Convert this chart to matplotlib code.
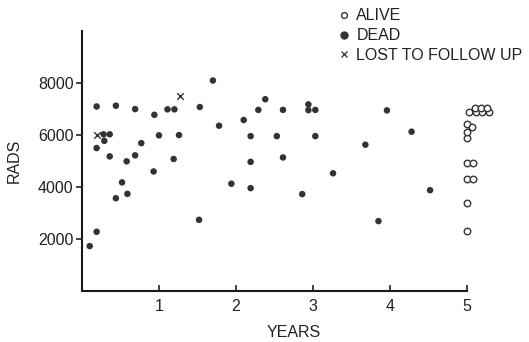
import numpy as np
import matplotlib
matplotlib.use('Agg')
import matplotlib.pyplot as plt
from matplotlib.lines import Line2D

plt.rcParams['font.family'] = ['Liberation Sans', 'DejaVu Sans']

# dead patients: years, rads
dead_years = [0.10, 0.19, 0.19, 0.28, 0.36, 0.29, 0.19, 0.36, 0.44, 0.44,
              0.52, 0.59, 0.58, 0.69, 0.69, 0.77, 0.94, 0.93, 1.00, 1.11,
              1.20, 1.19, 1.26, 1.53, 1.52, 1.70, 1.78, 1.94, 2.38, 2.29,
              2.61, 2.10, 2.19, 2.53, 3.03, 2.19, 2.61, 2.19, 2.86, 3.26,
              2.94, 2.94, 3.03, 3.68, 3.96, 4.28, 4.52, 3.85]
dead_rads = [1730, 2280, 7100, 6030, 6030, 5780, 5500, 5180, 7130, 3570,
             4180, 3740, 4990, 7000, 5220, 5690, 6780, 4600, 5990, 6990,
             6990, 5080, 6000, 7080, 2740, 8100, 6360, 4130, 7380, 6970,
             6970, 6580, 5960, 5960, 5960, 4970, 5140, 3960, 3730, 4530,
             7180, 6960, 6970, 5630, 6950, 6130, 3880, 2690]

# lost to follow up
lost_years = [0.19, 1.27]
lost_rads = [6000, 7500]

# alive at 5 years
alive_years = [5.00, 5.00, 5.00, 5.08, 5.00, 5.08, 5.00, 5.00, 5.00, 5.07,
               5.03, 5.12, 5.20, 5.29, 5.10, 5.18, 5.26]
alive_rads = [2300, 3400, 4320, 4320, 4920, 4920, 5900, 6100, 6420, 6310,
              6880, 6880, 6880, 6900, 7050, 7050, 7050]

x_ticks = [1, 2, 3, 4, 5]
y_ticks = [2000, 4000, 6000, 8000]

fig = plt.figure(figsize=(5.29, 3.42), dpi=100)
ax = fig.add_axes([0.155, 0.149, 0.8006, 0.760])

dot_col = '#333333'
ax.scatter(dead_years, dead_rads, s=22, color=dot_col, edgecolors='none', zorder=3)
ax.scatter(lost_years, lost_rads, s=22, marker='x', color=dot_col, linewidths=1.0, zorder=3)
ax.scatter(alive_years, alive_rads, s=22, facecolors='white', edgecolors=dot_col,
           linewidths=1.0, zorder=3)

ax.set_xlim(0, 5.5)
ax.set_ylim(0, 10000)
ax.spines['top'].set_visible(False)
ax.spines['right'].set_visible(False)
ax.spines['bottom'].set_bounds(0, 5)
for s in ['left', 'bottom']:
    ax.spines[s].set_linewidth(1.5)
    ax.spines[s].set_color('#1a1a1a')

ax.set_xticks(x_ticks)
ax.set_yticks(y_ticks)
ax.tick_params(axis='x', direction='in', length=4, width=1.2, labelsize=11.5, pad=6, colors='#222222')
ax.tick_params(axis='y', direction='out', length=4, width=1.2, labelsize=11.5, pad=2, colors='#222222')

ax.set_xlabel('YEARS', fontsize=11.5, color='#222222', labelpad=8)
ax.set_ylabel('RADS', fontsize=11.5, color='#222222', labelpad=12)

handles = [
    Line2D([], [], marker='o', linestyle='none', markersize=4.2, markerfacecolor='white',
           markeredgecolor=dot_col, markeredgewidth=1.0, label='ALIVE'),
    Line2D([], [], marker='o', linestyle='none', markersize=5.0, color=dot_col, label='DEAD'),
    Line2D([], [], marker='x', linestyle='none', markersize=3.8, color=dot_col,
           markeredgewidth=0.9, label='LOST TO FOLLOW UP'),
]
fig.legend(handles=handles, loc='upper left', bbox_to_anchor=(0.6346, 0.985),
           frameon=False, fontsize=11.5, handlelength=0.6, handletextpad=0.5,
           labelspacing=0.3, borderpad=0.2, borderaxespad=0, labelcolor='#222222')

fig.savefig('out.png', dpi=100)
